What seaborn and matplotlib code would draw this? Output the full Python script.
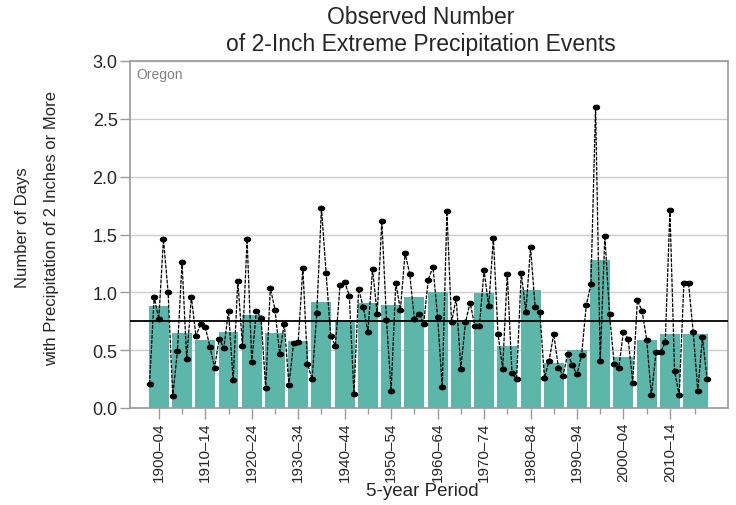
import matplotlib
matplotlib.use("Agg")
import matplotlib.pyplot as plt
import seaborn as sns
import numpy as np
import pandas as pd
from matplotlib.path import Path

# ---- data ----
years = list(range(1900, 2021))
annual = [0.21, 0.96, 0.77, 1.46, 1.00, 0.10, 0.49, 1.26, 0.42, 0.96,
          0.62, 0.73, 0.70, 0.53, 0.35, 0.60, 0.52, 0.84, 0.24, 1.10,
          0.54, 1.46, 0.40, 0.84, 0.78, 0.17, 1.04, 0.85, 0.47, 0.73,
          0.20, 0.56, 0.57, 1.21, 0.38, 0.25, 0.82, 1.73, 1.17, 0.62,
          0.54, 1.06, 1.09, 0.97, 0.12, 1.03, 0.87, 0.66, 1.20, 0.81,
          1.62, 0.76, 0.15, 1.08, 0.85, 1.34, 1.16, 0.77, 0.81, 0.73,
          1.11, 1.22, 0.79, 0.18, 1.70, 0.74, 0.95, 0.34, 0.74, 0.91,
          0.71, 0.71, 1.19, 0.88, 1.47, 0.64, 0.34, 1.16, 0.30, 0.25,
          1.17, 0.83, 1.39, 0.87, 0.83, 0.26, 0.41, 0.64, 0.35, 0.28,
          0.47, 0.37, 0.29, 0.46, 0.89, 1.07, 2.60, 0.41, 1.49, 0.81,
          0.38, 0.35, 0.66, 0.60, 0.22, 0.93, 0.84, 0.59, 0.11, 0.48,
          0.48, 0.57, 1.71, 0.32, 0.11, 1.08, 1.08, 0.66, 0.15, 0.61,
          0.25]
period_start = [1900, 1905, 1910, 1915, 1920, 1925, 1930, 1935, 1940, 1945,
                1950, 1955, 1960, 1965, 1970, 1975, 1980, 1985, 1990, 1995,
                2000, 2005, 2010, 2015]
period_end = [1904, 1909, 1914, 1919, 1924, 1929, 1934, 1939, 1944, 1949,
              1954, 1959, 1964, 1969, 1974, 1979, 1984, 1989, 1994, 1999,
              2004, 2009, 2014, 2020]
period_values = [0.88, 0.65, 0.59, 0.66, 0.80, 0.65, 0.58, 0.92, 0.76, 0.91,
                 0.89, 0.96, 1.00, 0.74, 0.99, 0.54, 1.02, 0.39, 0.50, 1.28,
                 0.44, 0.59, 0.64, 0.64]
tick_labels = ["1900\u201304", "1910\u201314", "1920\u201324", "1930\u201334",
               "1940\u201344", "1950\u201354", "1960\u201364", "1970\u201374",
               "1980\u201384", "1990\u201394", "2000\u201304", "2010\u201314"]
long_term_avg = 0.75

# ---- style ----
sns.set_theme(style="white")
plt.rcParams['font.family'] = ['Liberation Sans', 'DejaVu Sans']

bar_color = "#5cb6a9"
grid_color = "#cccccc"
spine_color = "#9a9a9a"

fig = plt.figure(figsize=(7.36, 5.06), dpi=100)
ax = fig.add_axes([130/736, 1 - 409/506, (728-130)/736, (409-62)/506])

starts = np.array(period_start, dtype=float)
ends = np.array(period_end, dtype=float)
pad = 0.15
ax.bar(starts - pad, period_values, width=(ends - starts) + 2*pad, align="edge",
       color=bar_color, edgecolor="none", zorder=2)

ax.axhline(long_term_avg, color="black", lw=1.3, zorder=3)

# slightly wide elliptical marker
t = np.linspace(0, 2*np.pi, 40)
ell = Path(np.column_stack([1.35*np.cos(t), np.sin(t)]), closed=True)

df = pd.DataFrame({"year": years, "value": annual})
sns.lineplot(data=df, x="year", y="value", ax=ax, color="black", lw=0.9,
             marker=ell, markersize=4.6, markeredgecolor="black",
             markerfacecolor="black", zorder=4)
ax.lines[-1].set_dashes([3, 1])

ax.set_xlim(1895.8, 2024.5)
ax.set_ylim(0, 3.0)
ax.set_yticks(np.arange(0, 3.01, 0.5))
ax.set_yticklabels([f"{v:.1f}" for v in np.arange(0, 3.01, 0.5)], fontsize=13)
ax.yaxis.grid(True, color=grid_color, lw=1, zorder=0)
ax.xaxis.grid(False)
ax.set_axisbelow(True)

centers = (starts + ends) / 2
ax.set_xticks(centers[::2])
ax.set_xticklabels(tick_labels, rotation=90, fontsize=11)
ax.set_xticks(centers[1::2], minor=True)
ax.tick_params(axis="x", which="major", length=8, width=1, color=spine_color, bottom=True, pad=2)
ax.tick_params(axis="x", which="minor", length=4, width=1, color=spine_color, bottom=True)
ax.tick_params(axis="y", which="major", length=7, width=1, color=spine_color, left=True, pad=2)

for s in ax.spines.values():
    s.set_color(spine_color)
    s.set_linewidth(1.2)

ax.set_xlabel("5-year Period", fontsize=13.5, labelpad=4)
ax.xaxis.set_label_coords((422-130)/598, -(483-409)/347)
ax.set_ylabel("")
fig.text(37/736, 1 - 228/506, "Number of Days\nwith Precipitation of 2 Inches or More",
         rotation=90, ha="center", va="center", fontsize=12, linespacing=2.1)

ax.text(0.01, 0.982, "Oregon", transform=ax.transAxes, ha="left", va="top",
        fontsize=10, color="#808080")

fig.text(421/736, 1 - 6/506, "Observed Number\nof 2-Inch Extreme Precipitation Events",
         ha="center", va="top", fontsize=16.5, linespacing=1.2)

fig.savefig("out.png", dpi=100)
